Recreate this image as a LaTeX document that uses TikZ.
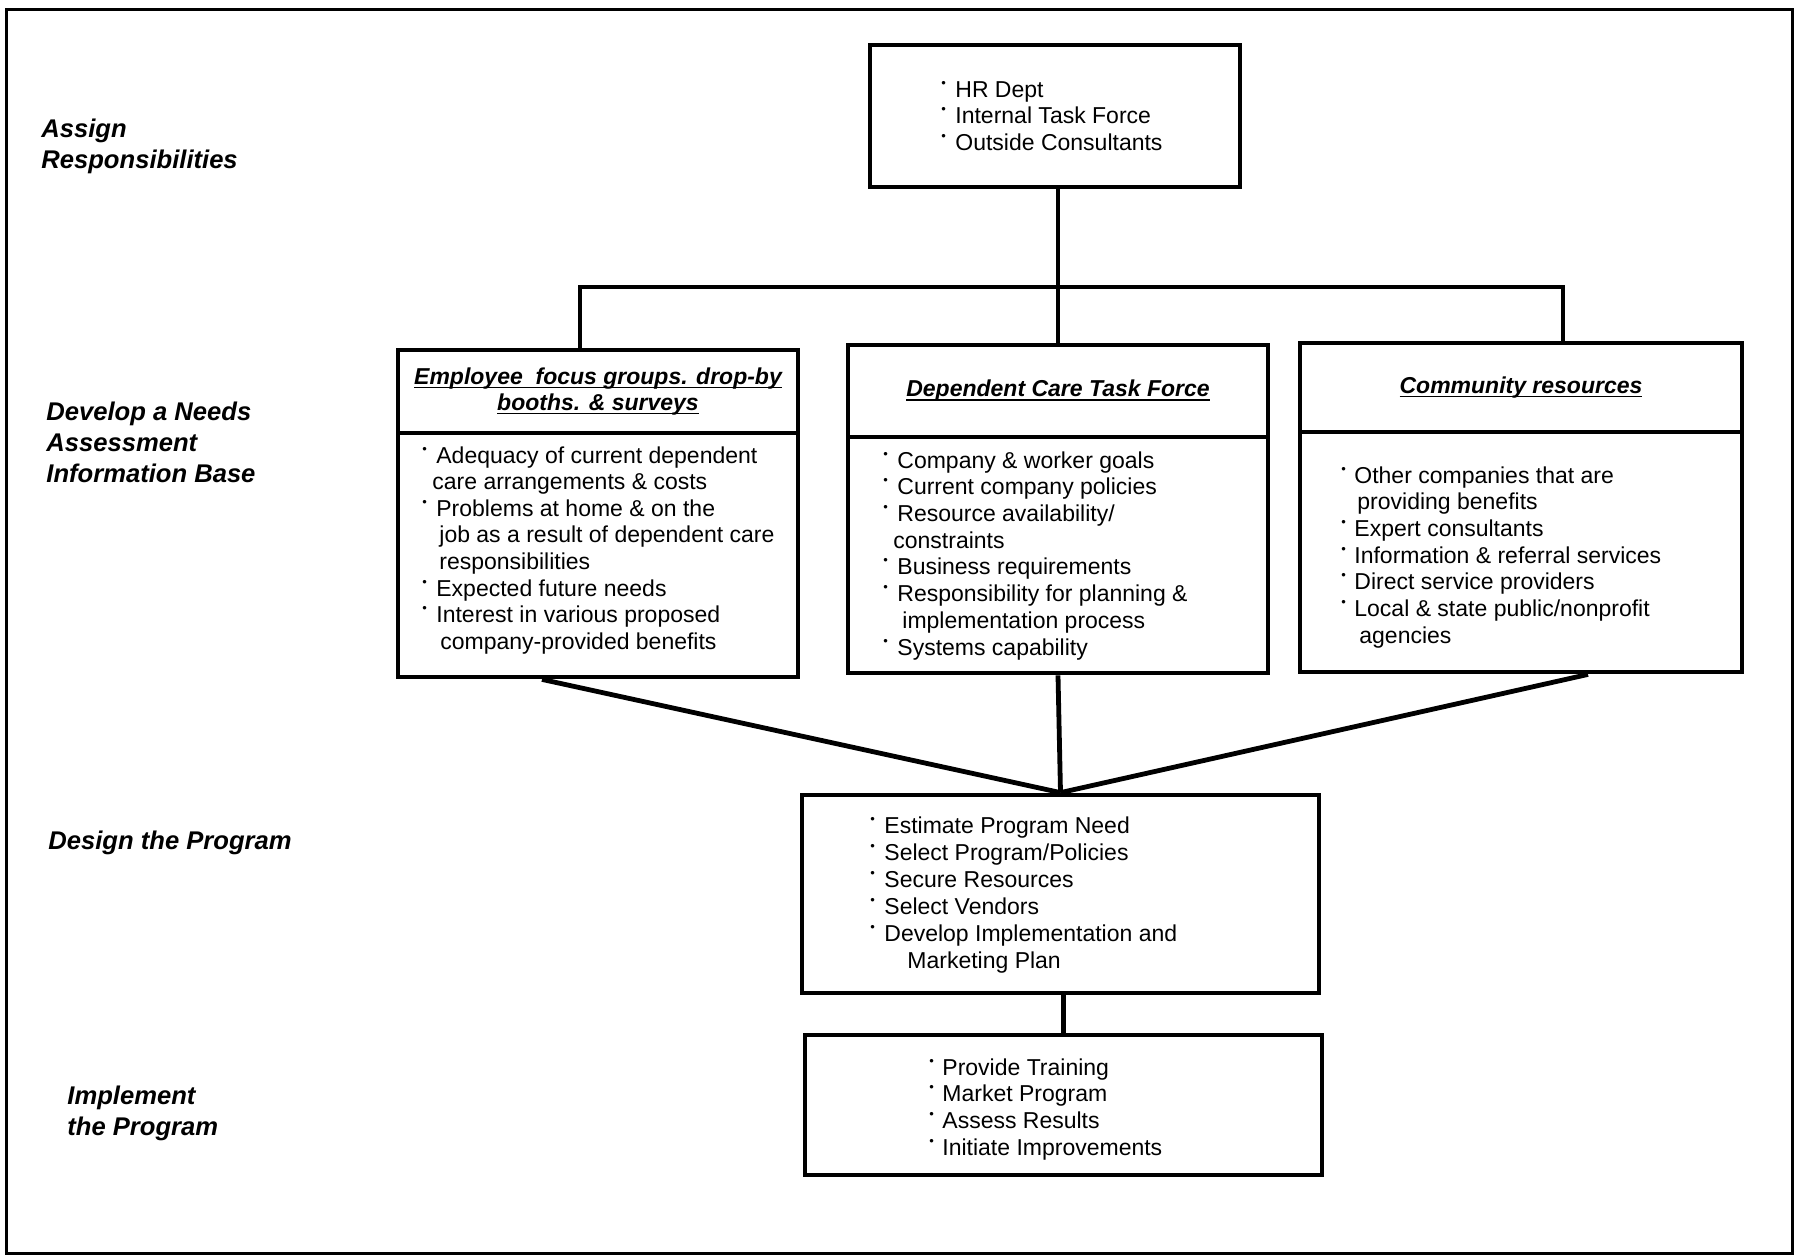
\documentclass[tikz,border=0pt]{standalone}
\usepackage{fontspec}
\setmainfont{Liberation Sans}
\newlength\ulw
\newcommand\uln[1]{\settowidth\ulw{#1}\rlap{\rule[-2pt]{\ulw}{0.9pt}}#1}
\newcommand\bul[1][6.5pt]{\makebox[#1][l]{\raisebox{5pt}{\fontsize{6.5}{6.5}\selectfont\textbullet}}}
\begin{document}
\begin{tikzpicture}[x=0.5pt,y=-0.5pt,
  box/.style={draw,line width=2.4pt,inner sep=0pt,rectangle},
  conn/.style={line width=2.4pt},
  frame/.style={line width=1.5pt},
  body/.style={anchor=base west,inner sep=0pt,font=\fontsize{11.5}{13.3}\selectfont},
  head/.style={font=\fontsize{11.5}{13}\selectfont\bfseries\itshape,align=center},
  stage/.style={anchor=base west,inner sep=0pt,font=\fontsize{12.8}{15.5}\selectfont\bfseries\itshape}]
\useasboundingbox (0,0) rectangle (1798,1259);
\draw[frame] (6,9) rectangle (1792,1253);

% stage labels
\node[stage] (s1) at (41,137) {\begin{tabular}[t]{@{}l@{}}Assign\\Responsibilities\end{tabular}};
\node[stage] (s2) at (46,420) {\begin{tabular}[t]{@{}l@{}}Develop a Needs\\Assessment\\Information Base\end{tabular}};
\node[stage] (s3) at (48,849) {Design the Program};
\node[stage] (s4) at (67,1104) {\begin{tabular}[t]{@{}l@{}}Implement\\the Program\end{tabular}};

% boxes
\node[box, minimum width=185pt, minimum height=71pt] (hr) at (1055,116) {};
\node[box, head, minimum width=200pt, minimum height=41.5pt] (b1h) at (598,391.5)
  {\uln{Employee\ \ focus groups. drop-by}\\\uln{booths. \& surveys}};
\node[box, minimum width=200pt, minimum height=122pt] (b1b) at (598,555) {};
\node[box, head, minimum width=210pt, minimum height=46pt] (b2h) at (1058,391)
  {\uln{Dependent Care Task Force}};
\node[box, minimum width=210pt, minimum height=118pt] (b2b) at (1058,555) {};
\node[box, head, minimum width=221pt, minimum height=44.5pt] (b3h) at (1521,387.5)
  {\uln{Community resources}};
\node[box, minimum width=221pt, minimum height=120pt] (b3b) at (1521,552) {};
\node[box, minimum width=258.5pt, minimum height=99pt] (ds) at (1060.5,894) {};
\node[box, minimum width=258.5pt, minimum height=70pt] (im) at (1063.5,1105) {};

% box texts
\node[body] (hrt) at (941,97) {\begin{tabular}[t]{@{}l@{}}
\bul[7pt]HR Dept\\
\bul[7pt]Internal Task Force\\
\bul[7pt]Outside Consultants\end{tabular}};

\node[body] (b1t) at (422,463) {\begin{tabular}[t]{@{}l@{}}
\bul[7pt]Adequacy of current dependent\\
\hspace{5pt}care arrangements \& costs\\
\bul[7pt]Problems at home \& on the\\
\hspace{8.5pt}job as a result of dependent care\\
\hspace{8.5pt}responsibilities\\
\bul[7pt]Expected future needs\\
\bul[7pt]Interest in various proposed\\
\hspace{9pt}company-provided benefits\end{tabular}};

\node[body, font=\fontsize{11.5}{13.36}\selectfont] (b2t) at (883,468) {\begin{tabular}[t]{@{}l@{}}
\bul[7pt]Company \& worker goals\\
\bul[7pt]Current company policies\\
\bul[7pt]Resource availability/\\
\hspace{5pt}constraints\\
\bul[7pt]Business requirements\\
\bul[7pt]Responsibility for planning \&\\
\hspace{9.5pt}implementation process\\
\bul[7pt]Systems capability\end{tabular}};

\node[body, font=\fontsize{11.5}{13.36}\selectfont] (b3t) at (1341,483) {\begin{tabular}[t]{@{}l@{}}
\bul Other companies that are\\
\hspace{8pt}providing benefits\\
\bul Expert consultants\\
\bul Information \& referral services\\
\bul Direct service providers\\
\bul Local \& state public/nonprofit\\
\hspace{9pt}agencies\end{tabular}};

\node[body, font=\fontsize{11.5}{13.5}\selectfont] (dst) at (870,833) {\begin{tabular}[t]{@{}l@{}}
\bul[7pt]Estimate Program Need\\
\bul[7pt]Select Program/Policies\\
\bul[7pt]Secure Resources\\
\bul[7pt]Select Vendors\\
\bul[7pt]Develop Implementation and\\
\hspace{18.5pt}Marketing Plan\end{tabular}};

\node[body, font=\fontsize{11.5}{13.36}\selectfont] (imt) at (929,1075) {\begin{tabular}[t]{@{}l@{}}
\bul Provide Training\\
\bul Market Program\\
\bul Assess Results\\
\bul Initiate Improvements\end{tabular}};

% connectors
\coordinate (dL) at (580,287);
\coordinate (dR) at (1563,287);
\coordinate (cx) at (1058,0);
\coordinate (f1) at (542,0);
\coordinate (f3) at (1588,0);
\draw[conn] (hr.south -| cx) -- (cx |- dL);
\draw[conn] (b1h.north -| dL) |- (dR) -- (b3h.north -| dR);
\draw[conn] (b2h.north) -- (b2h.north |- dL);
\draw[conn] (b1b.south -| f1) -- (ds.north);
\draw[conn] (b2b.south) -- (ds.north);
\draw[conn] (b3b.south -| f3) -- (ds.north);
\draw[conn] (ds.south -| im.north) -- (im.north);
\end{tikzpicture}
\end{document}
